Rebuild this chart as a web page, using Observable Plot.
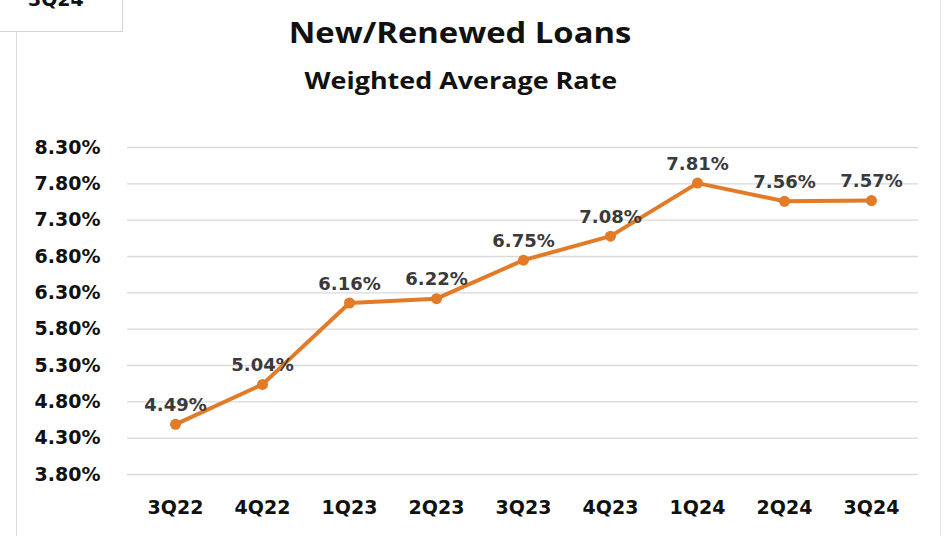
<!DOCTYPE html>
<html>
<head>
<meta charset="utf-8">
<script src="https://cdn.jsdelivr.net/npm/d3@7"></script>
<script src="https://cdn.jsdelivr.net/npm/@observablehq/plot@0.6"></script>
<style>
  html, body { margin: 0; padding: 0; background: #fff; }
  #wrap { position: relative; width: 948px; height: 536px; overflow: hidden; }
  #chart { position: absolute; left: 0; top: 0; }
  .title { position: absolute; left: 0; width: 920px; text-align: center; font-family: "Open Sans", sans-serif; font-weight: 700; color: #111; }
  #t1 { top: 12px; font-size: 29px; transform: scaleX(1.13); transform-origin: 460px 0; }
  #t2 { top: 64px; font-size: 23px; transform: scaleX(1.17); transform-origin: 455px 0; }
  #box { position: absolute; left: -2px; top: -2px; width: 123px; height: 32px; border: 1px solid #d4d4d4; background: #fff; }
  #boxtxt { position: absolute; left: 28px; top: -12px; font-family: "DejaVu Sans", sans-serif; font-weight: 700; font-size: 19px; color: #111; }
  #lborder { position: absolute; left: 16px; top: 31px; width: 1px; height: 505px; background: #d9d9d9; }
  #rborder { position: absolute; left: 940px; top: 0px; width: 1px; height: 536px; background: #e2e2e2; }
</style>
</head>
<body>
<div id="wrap">
  <div id="chart"></div>
  <div id="lborder"></div>
  <div id="rborder"></div>
  <div id="box"></div>
  <div id="boxtxt">3Q24</div>
  <div class="title" id="t1">New/Renewed Loans</div>
  <div class="title" id="t2">Weighted Average Rate</div>
</div>
<script>
const quarters = ["3Q22", "4Q22", "1Q23", "2Q23", "3Q23", "4Q23", "1Q24", "2Q24", "3Q24"];
const rates = [4.49, 5.04, 6.16, 6.22, 6.75, 7.08, 7.81, 7.56, 7.57];
const yTicks = [3.8, 4.3, 4.8, 5.3, 5.8, 6.3, 6.8, 7.3, 7.8, 8.3];

const data = quarters.map((q, i) => ({quarter: q, rate: rates[i]}));
const orange = "#E27A26";

const chart = Plot.plot({
  width: 948,
  height: 536,
  marginLeft: 127,
  marginRight: 30,
  marginTop: 147,
  marginBottom: 62,
  style: { fontFamily: "DejaVu Sans, sans-serif", background: "transparent" },
  x: { type: "point", domain: quarters, padding: 0.5 },
  y: { domain: [3.8, 8.3] },
  marks: [
    Plot.gridY(yTicks, { stroke: "#d9d9d9", strokeOpacity: 1, strokeWidth: 1.3 }),
    Plot.axisY(yTicks, {
      tickSize: 0, tickPadding: 27, label: null,
      tickFormat: d => d.toFixed(2) + "%",
      fontSize: 19, fontWeight: "bold", fill: "#111"
    }),
    Plot.axisX({
      tickSize: 0, tickPadding: 26, label: null,
      fontSize: 19, fontWeight: "bold", fill: "#111"
    }),
    Plot.line(data, { x: "quarter", y: "rate", stroke: orange, strokeWidth: 4 }),
    Plot.dot(data, { x: "quarter", y: "rate", fill: orange, r: 5.5 }),
    Plot.text(data, {
      x: "quarter", y: "rate", text: d => d.rate.toFixed(2) + "%",
      dy: -19, fontSize: 18, fontWeight: "bold", fill: "#3a3a3a"
    })
  ]
});
document.getElementById("chart").appendChild(chart);
</script>
</body>
</html>
